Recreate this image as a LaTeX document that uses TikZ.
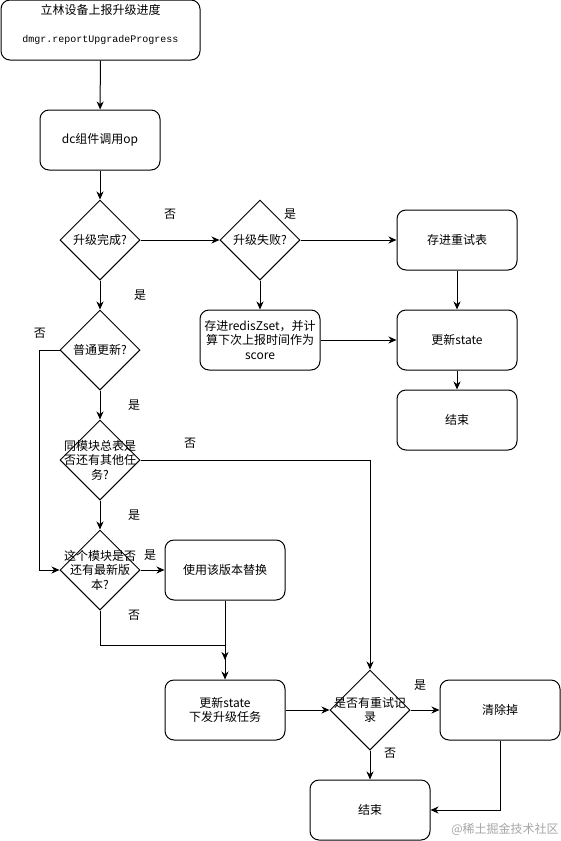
\documentclass[tikz,border=0pt]{standalone}
\usepackage{fontspec}
\setmainfont{Noto Sans CJK SC}
\newfontfamily\codefont{Liberation Mono}
\usetikzlibrary{shapes.geometric,arrows.meta}

\begin{document}
\begin{tikzpicture}[x=1pt,y=1pt,line width=1pt,
  >={Stealth[length=8pt,width=7pt,inset=2.5pt]},
  font=\fontsize{12pt}{14.5pt}\selectfont,
  box/.style={draw,rounded corners=9pt,minimum width=120pt,minimum height=60pt,align=center,inner sep=0pt},
  dec/.style={draw,diamond,minimum width=80pt,minimum height=80pt,inner sep=0pt},
  lab/.style={inner sep=0pt}]
\path[use as bounding box,fill=white] (0,0) rectangle (561,-841);
% main column
\node[box,minimum width=199pt,
  label={[yshift=20.5pt]center:立林设备上报升级进度},
  label={[yshift=-10pt,font=\codefont\fontsize{10pt}{12pt}\selectfont]center:dmgr.reportUpgradeProgress}]
  (start) at (100.5,-30) {};
\node[box] (dc) at (100,-140) {dc组件调用op};
\node[dec,label={center:升级完成?}] (done) at (100,-240) {};
\node[dec,label={center:普通更新?}] (normal) at (100,-350) {};
\node[dec,label={[align=center]center:同模块总表是\\否还有其他任\\务?}] (others) at (100,-460) {};
\node[dec,label={[align=center]center:这个模块是否\\还有最新版\\本?}] (newer) at (100,-570) {};
\node[box] (replace) at (225,-570) {使用该版本替换};
\node[box] (push) at (225,-710) {更新state\\下发升级任务};
% failure branch
\node[dec,label={center:升级失败?}] (failed) at (260,-240) {};
\node[box] (retry) at (457,-240) {存进重试表};
\node[box] (zset) at (260,-340) {存进redisZset，并计\\算下次上报时间作为\\score};
\node[box] (state) at (457,-340) {更新state};
\node[box] (endA) at (457,-420) {结束};
% retry record check
\node[dec,label={[align=center]center:是否有重试记\\录}] (record) at (370,-710) {};
\node[box] (clear) at (500,-710) {清除掉};
\node[box] (endB) at (370,-810) {结束};
\coordinate (join) at (225,-660);

\draw[->] (start) -- (dc);
\draw[->] (dc) -- (done);
\draw[->] (done) -- (failed);
\draw[->] (failed) -- (retry);
\draw[->] (failed) -- (zset);
\draw[->] (zset) -- (state);
\draw[->] (retry) -- (state);
\draw[->] (state) -- (endA);
\draw[->] (done) -- (normal);
\draw[->] (normal.west) -- ++(-20,0) |- (newer.west);
\draw[->] (normal) -- (others);
\draw[->] (others.east) -| (record.north);
\draw[->] (others) -- (newer);
\draw[->] (newer) -- (replace);
\draw[->] (newer.south) -- ++(0,-35) -| (join);
\draw[->] (replace) -- (push);
\draw[->] (push) -- (record);
\draw[->] (record) -- (clear);
\draw[->] (record) -- (endB);
\draw[->] (clear.south) |- (endB.east);

% branch labels
\node[lab] (noDone) at (170,-214) {否};
\node[lab] (yesFailed) at (290,-214) {是};
\node[lab] (yesDone) at (140,-295) {是};
\node[lab] (noNormal) at (40,-333) {否};
\node[lab] (yesNormal) at (134,-405) {是};
\node[lab] (noOthers) at (190,-443) {否};
\node[lab] (yesOthers) at (134,-515) {是};
\node[lab] (yesNewer) at (150,-555) {是};
\node[lab] (noNewer) at (134,-615) {否};
\node[lab] (yesRecord) at (420,-685) {是};
\node[lab] (noRecord) at (390,-753) {否};
\node[lab,text=black!35] (mark) at (505,-829) {@稀土掘金技术社区};
\end{tikzpicture}
\end{document}
